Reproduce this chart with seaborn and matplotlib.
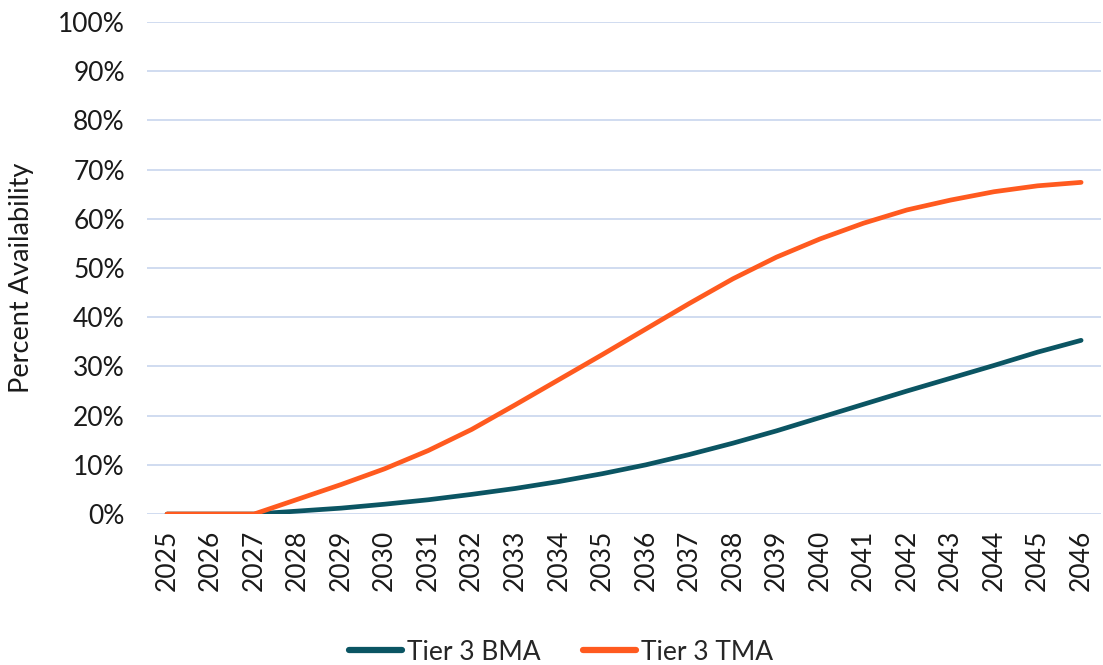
import pandas as pd
import matplotlib
matplotlib.use("Agg")
import matplotlib.pyplot as plt
from matplotlib.ticker import PercentFormatter
import seaborn as sns

# ── data ──────────────────────────────────────────────────────
years = list(range(2025, 2047))
bma = [0, 0, 0, 0.6, 1.2, 2.0, 2.9, 4.0, 5.2, 6.6, 8.2, 10.0,
       12.1, 14.4, 16.9, 19.6, 22.3, 25.0, 27.6, 30.2, 32.9, 35.3]
tma = [0, 0, 0, 3.0, 6.0, 9.2, 12.9, 17.2, 22.2, 27.3, 32.4, 37.6,
       42.8, 47.8, 52.2, 55.9, 59.1, 61.8, 63.8, 65.5, 66.7, 67.4]
series_names = ["Tier 3 BMA", "Tier 3 TMA"]
colors = ["#0B5563", "#FF5A1F"]

df = pd.DataFrame({
    "year": years * 2,
    "pct": bma + tma,
    "series": [series_names[0]] * len(years) + [series_names[1]] * len(years),
})

# ── plot ──────────────────────────────────────────────────────
sns.set_theme(style="white")
plt.rcParams["font.family"] = ["Lato", "DejaVu Sans"]

fig = plt.figure(figsize=(11.03, 6.65), dpi=100)
ax = fig.add_axes([0.1333, 0.227, 0.865, 0.740])

sns.lineplot(data=df, x="year", y="pct", hue="series",
             palette=dict(zip(series_names, colors)),
             linewidth=3.4, ax=ax, legend=True, solid_capstyle="round")

ax.set_xlim(2024.54, 2046.46)
ax.set_ylim(0, 100)
ax.set_yticks(range(0, 101, 10))
ax.yaxis.set_major_formatter(PercentFormatter(decimals=0))
ax.set_xticks(years)
ax.set_xticklabels([str(y) for y in years], rotation=90)
ax.tick_params(axis="both", labelsize=19, colors="#1A1A1A", length=0)
ax.tick_params(axis="y", pad=16)
ax.tick_params(axis="x", pad=11)
ax.grid(axis="y", color="#D0DCF0", linewidth=1.4)
ax.set_axisbelow(True)
for s in ax.spines.values():
    s.set_visible(False)
ax.set_xlabel("")
ax.set_ylabel("Percent Availability", fontsize=19.5, color="#1A1A1A", labelpad=14)
ax.yaxis.set_label_coords(-0.118, 0.48)

handles, labels = ax.get_legend_handles_labels()
ax.get_legend().remove()
for h in handles:
    h.set_linewidth(4.5)
    h.set_solid_capstyle("round")
fig.legend(handles, labels, loc="lower center", bbox_to_anchor=(0.509, -0.035),
           ncol=2, frameon=False, fontsize=19, handlelength=2.0,
           handletextpad=0.2, columnspacing=1.6)

fig.savefig("out.png", dpi=100)
